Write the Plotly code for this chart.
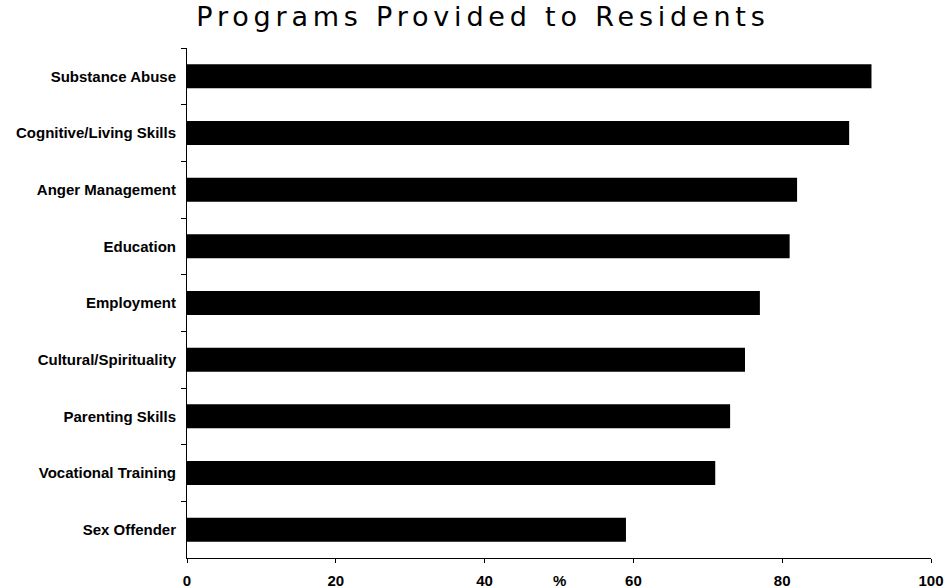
import plotly.graph_objects as go

# Share of facilities offering each program (%), listed top to bottom
programs = [
    "Substance Abuse",
    "Cognitive/Living Skills",
    "Anger Management",
    "Education",
    "Employment",
    "Cultural/Spirituality",
    "Parenting Skills",
    "Vocational Training",
    "Sex Offender",
]
percent = [92, 89, 82, 81, 77, 75, 73, 71, 59]

x_ticks = [0, 20, 40, 60, 80, 100]

label_font = dict(family="Liberation Sans, Arial, sans-serif", size=15, color="black", weight="bold")

fig = go.Figure(
    go.Bar(
        x=percent,
        y=programs,
        orientation="h",
        marker=dict(color="black", line=dict(width=0)),
        hoverinfo="x+y",
    )
)

fig.update_layout(
    width=945,
    height=588,
    margin=dict(l=186.5, r=14.3, t=48, b=30, autoexpand=False),
    paper_bgcolor="white",
    plot_bgcolor="white",
    bargap=0.577,
    showlegend=False,
    title=dict(
        text="Programs Provided to Residents",
        font=dict(family="DejaVu Sans, Verdana, sans-serif", size=27, color="black"),
        x=483 / 945,
        xanchor="center",
        xref="container",
        yref="container",
        y=1 - 7 / 588,
        yanchor="top",
    ),
    xaxis=dict(
        range=[0, 100],
        tickvals=x_ticks,
        ticktext=[str(v) for v in x_ticks],
        showgrid=False,
        zeroline=False,
        showline=True,
        linecolor="black",
        linewidth=1,
        ticks="outside",
        ticklen=4,
        tickcolor="black",
        tickfont=label_font,
        ticklabelstandoff=5,
        automargin=False,
    ),
    yaxis=dict(
        autorange="reversed",
        showgrid=False,
        zeroline=False,
        showline=True,
        linecolor="black",
        linewidth=1,
        ticks="outside",
        tickson="boundaries",
        ticklen=5,
        tickcolor="black",
        tickfont=label_font,
        ticklabelstandoff=7,
        automargin=False,
    ),
    annotations=[
        dict(
            text="%",
            x=50,
            xref="x",
            y=0,
            yref="paper",
            yshift=-22,
            showarrow=False,
            font=label_font,
            xanchor="center",
            yanchor="middle",
        )
    ],
)

spacing_js = """
var gd = document.getElementById('{plot_id}');
function spaceTitle() {
  gd.querySelectorAll('.gtitle').forEach(function (t) { t.style.letterSpacing = '4.8px'; });
}
spaceTitle();
gd.on('plotly_afterplot', spaceTitle);
"""

fig.write_html("out.html", post_script=spacing_js)
